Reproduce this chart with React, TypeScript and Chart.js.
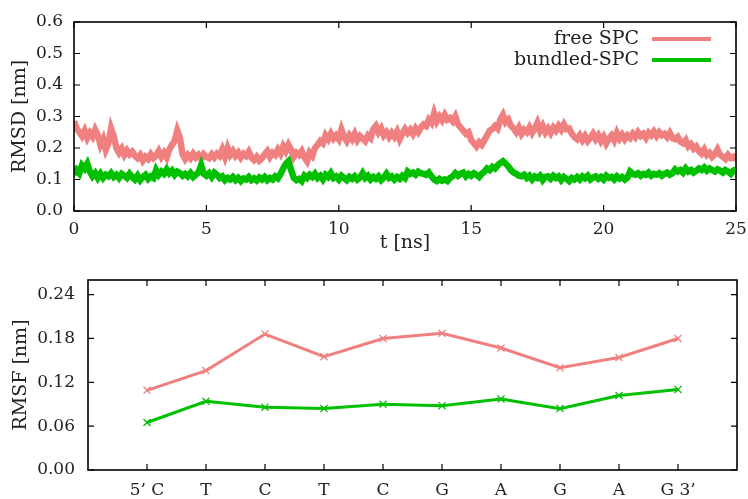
import React, { useEffect, useRef } from 'react';
import { Chart, registerables } from 'chart.js';
Chart.register(...registerables);

// ---------- data ----------
const timeStepNs = 0.1; // sampling interval of the RMSD traces (ns)

const freeSPC_RMSD = [
  0.285, 0.262, 0.25, 0.238, 0.255, 0.232, 0.248, 0.236, 0.258, 0.24,
  0.21, 0.228, 0.195, 0.215, 0.262, 0.238, 0.2, 0.185, 0.198, 0.178,
  0.192, 0.18, 0.188, 0.175, 0.168, 0.178, 0.16, 0.172, 0.165, 0.18,
  0.168, 0.175, 0.19, 0.172, 0.185, 0.17, 0.195, 0.21, 0.222, 0.255,
  0.232, 0.18, 0.165, 0.178, 0.168, 0.182, 0.17, 0.178, 0.165, 0.18,
  0.172, 0.168, 0.18, 0.17, 0.182, 0.175, 0.195, 0.172, 0.2, 0.178,
  0.19, 0.175, 0.185, 0.17, 0.182, 0.175, 0.188, 0.17, 0.162, 0.172,
  0.16, 0.168, 0.18, 0.19, 0.172, 0.185, 0.178, 0.195, 0.182, 0.205,
  0.19, 0.21, 0.195, 0.172, 0.185, 0.178, 0.19, 0.17, 0.158, 0.185,
  0.175, 0.2, 0.21, 0.222, 0.215, 0.24, 0.228, 0.245, 0.23, 0.24,
  0.228, 0.258, 0.235, 0.222, 0.24, 0.228, 0.245, 0.225, 0.238, 0.23,
  0.222, 0.24, 0.232, 0.26, 0.27, 0.25, 0.262, 0.24, 0.25, 0.235,
  0.248, 0.236, 0.252, 0.228, 0.245, 0.26, 0.248, 0.258, 0.245, 0.262,
  0.25, 0.265, 0.275, 0.27, 0.29, 0.28, 0.31, 0.285, 0.3, 0.288,
  0.305, 0.29, 0.295, 0.285, 0.3, 0.275, 0.265, 0.255, 0.245, 0.25,
  0.225, 0.215, 0.205, 0.218, 0.21, 0.225, 0.24, 0.255, 0.26, 0.27,
  0.262, 0.29, 0.305, 0.282, 0.29, 0.27, 0.262, 0.25, 0.265, 0.245,
  0.258, 0.25, 0.265, 0.248, 0.262, 0.28, 0.255, 0.27, 0.25, 0.262,
  0.248, 0.265, 0.255, 0.27, 0.258, 0.275, 0.26, 0.262, 0.245, 0.235,
  0.228, 0.24, 0.225, 0.238, 0.222, 0.232, 0.245, 0.228, 0.24, 0.222,
  0.235, 0.215, 0.23, 0.24, 0.225, 0.248, 0.23, 0.242, 0.228, 0.24,
  0.232, 0.245, 0.235, 0.25, 0.238, 0.245, 0.232, 0.248, 0.24, 0.252,
  0.238, 0.25, 0.24, 0.245, 0.235, 0.248, 0.232, 0.228, 0.235, 0.22,
  0.215, 0.225, 0.205, 0.212, 0.198, 0.205, 0.19, 0.182, 0.195, 0.178,
  0.185, 0.172, 0.18, 0.195, 0.178, 0.172, 0.165, 0.178, 0.168, 0.172,
  0.162,
];

const bundledSPC_RMSD = [
  0.115, 0.13, 0.12, 0.145, 0.135, 0.15, 0.125, 0.11, 0.12, 0.105,
  0.118, 0.105, 0.115, 0.11, 0.12, 0.108, 0.115, 0.105, 0.118, 0.112,
  0.105, 0.118, 0.108, 0.1, 0.112, 0.098, 0.108, 0.115, 0.102, 0.11,
  0.105, 0.13, 0.115, 0.125, 0.118, 0.132, 0.12, 0.128, 0.115, 0.125,
  0.12, 0.112, 0.118, 0.11, 0.12, 0.108, 0.115, 0.122, 0.145, 0.118,
  0.112, 0.12, 0.108, 0.122, 0.115, 0.105, 0.11, 0.098, 0.105, 0.1,
  0.108, 0.098, 0.105, 0.095, 0.103, 0.1, 0.108, 0.098, 0.104, 0.097,
  0.106, 0.1, 0.108, 0.098, 0.105, 0.1, 0.11, 0.104, 0.118, 0.135,
  0.15, 0.158, 0.13, 0.105, 0.098, 0.102, 0.095, 0.112, 0.105, 0.115,
  0.108, 0.118, 0.105, 0.112, 0.1, 0.115, 0.108, 0.12, 0.105, 0.11,
  0.1, 0.112, 0.105, 0.098, 0.108, 0.102, 0.11, 0.1, 0.106, 0.12,
  0.105, 0.112, 0.1, 0.108, 0.102, 0.11, 0.098, 0.106, 0.118, 0.105,
  0.11, 0.1, 0.108, 0.102, 0.112, 0.105, 0.125, 0.118, 0.122, 0.115,
  0.125, 0.12, 0.118, 0.115, 0.122, 0.11, 0.1, 0.095, 0.102, 0.096,
  0.1, 0.095, 0.105, 0.11, 0.12, 0.112, 0.118, 0.122, 0.11, 0.118,
  0.112, 0.12, 0.115, 0.108, 0.118, 0.125, 0.135, 0.13, 0.14, 0.135,
  0.145, 0.152, 0.158, 0.15, 0.142, 0.13, 0.122, 0.118, 0.112, 0.11,
  0.115, 0.105, 0.112, 0.1, 0.11, 0.105, 0.112, 0.098, 0.108, 0.11,
  0.102, 0.112, 0.105, 0.11, 0.098, 0.108, 0.102, 0.095, 0.105, 0.1,
  0.108, 0.1, 0.11, 0.104, 0.112, 0.1, 0.106, 0.11, 0.102, 0.108,
  0.1, 0.112, 0.105, 0.108, 0.1, 0.11, 0.103, 0.108, 0.1, 0.106,
  0.125, 0.118, 0.115, 0.12, 0.112, 0.118, 0.115, 0.122, 0.112, 0.118,
  0.115, 0.12, 0.112, 0.118, 0.122, 0.115, 0.12, 0.132, 0.125, 0.13,
  0.122, 0.135, 0.125, 0.13, 0.122, 0.128, 0.135, 0.13, 0.138, 0.128,
  0.135, 0.13, 0.125, 0.132, 0.128, 0.122, 0.13, 0.125, 0.118, 0.128,
  0.132,
];

const timeTicks = [0, 5, 10, 15, 20, 25];
const rmsdTicks = [0, 0.1, 0.2, 0.3, 0.4, 0.5, 0.6];

const residues = ['5’ C', 'T', 'C', 'T', 'C', 'G', 'A', 'G', 'A', 'G 3’'];
const freeSPC_RMSF = [0.109, 0.136, 0.186, 0.155, 0.180, 0.187, 0.167, 0.140, 0.154, 0.180];
const bundledSPC_RMSF = [0.065, 0.094, 0.086, 0.084, 0.090, 0.088, 0.097, 0.084, 0.102, 0.110];
const rmsfTicks = [0, 0.06, 0.12, 0.18, 0.24];

const seriesNames = ['free SPC', 'bundled-SPC'];
const seriesColors = ['#f08080', '#00c000'];

// ---------- helpers ----------
const FONT = 'DejaVu Serif';
const TEXT = '#222';

const framePlugin = {
  id: 'frame',
  afterDraw(chart: any) {
    const { ctx, chartArea } = chart;
    const { left, right, top, bottom } = chartArea;
    const len = 6;
    ctx.save();
    ctx.strokeStyle = '#000';
    ctx.lineWidth = 1.6;
    ctx.strokeRect(left, top, right - left, bottom - top);
    ctx.lineWidth = 1.2;
    ctx.beginPath();
    const xs = chart.scales.x;
    const ys = chart.scales.y;
    xs.ticks.forEach((t: any) => {
      const p = xs.getPixelForValue(t.value);
      ctx.moveTo(p, bottom); ctx.lineTo(p, bottom - len);
      ctx.moveTo(p, top); ctx.lineTo(p, top + len);
    });
    ys.ticks.forEach((t: any) => {
      const p = ys.getPixelForValue(t.value);
      ctx.moveTo(left, p); ctx.lineTo(left + len, p);
      ctx.moveTo(right, p); ctx.lineTo(right - len, p);
    });
    ctx.stroke();
    ctx.restore();
  },
};

const legendPlugin = {
  id: 'rightLegend',
  afterDraw(chart: any) {
    const { ctx } = chart;
    ctx.save();
    ctx.font = `19px "${FONT}"`;
    ctx.textAlign = 'right';
    ctx.textBaseline = 'middle';
    const ys = [39, 60];
    seriesNames.forEach((name, i) => {
      ctx.fillStyle = TEXT;
      ctx.fillText(name, 639, ys[i]);
      ctx.strokeStyle = seriesColors[i];
      ctx.lineWidth = 4;
      ctx.beginPath();
      ctx.moveTo(652, ys[i]);
      ctx.lineTo(711, ys[i]);
      ctx.stroke();
    });
    ctx.restore();
  },
};

function setTicks(values: number[]) {
  return (scale: any) => {
    scale.ticks = values.map((v) => ({ value: v }));
  };
}

export default function App() {
  const topRef = useRef<HTMLCanvasElement>(null);
  const botRef = useRef<HTMLCanvasElement>(null);

  useEffect(() => {
    const times = freeSPC_RMSD.map((_, i) => +(i * timeStepNs).toFixed(2));
    const top = new Chart(topRef.current as HTMLCanvasElement, {
      type: 'line',
      data: {
        datasets: [
          {
            label: seriesNames[0],
            data: freeSPC_RMSD.map((v, i) => ({ x: times[i], y: v })),
            borderColor: seriesColors[0],
            borderWidth: 6.5,
            borderJoinStyle: 'miter',
            pointRadius: 0,
            tension: 0,
            order: 1,
          },
          {
            label: seriesNames[1],
            data: bundledSPC_RMSD.map((v, i) => ({ x: times[i], y: v })),
            borderColor: seriesColors[1],
            borderWidth: 6.5,
            borderJoinStyle: 'miter',
            pointRadius: 0,
            tension: 0,
            order: 0,
          },
        ],
      },
      options: {
        animation: false,
        responsive: false,
        events: [],
        layout: { padding: { left: 0, right: 12, top: 22, bottom: 0 } },
        plugins: { legend: { display: false }, tooltip: { enabled: false } },
        scales: {
          x: {
            type: 'linear',
            min: 0,
            max: 25,
            afterBuildTicks: setTicks(timeTicks),
            afterFit: (s: any) => { s.height = 44; s.paddingRight = 0; s.paddingLeft = 0; },
            grid: { display: false, drawTicks: false },
            border: { display: false },
            ticks: {
              padding: 8,
              color: TEXT,
              font: { family: FONT, size: 17 },
              maxRotation: 0,
              callback: (v: any) => String(v),
            },
            title: {
              display: true,
              text: 't [ns]',
              color: TEXT,
              font: { family: FONT, size: 19 },
              padding: { top: 0, bottom: 1 },
            },
          },
          y: {
            type: 'linear',
            min: 0,
            max: 0.6,
            afterBuildTicks: setTicks(rmsdTicks),
            afterFit: (s: any) => { s.width = 74; },
            grid: { display: false, drawTicks: false },
            border: { display: false },
            ticks: {
              padding: 11,
              color: TEXT,
              font: { family: FONT, size: 17 },
              callback: (v: any) => Number(v).toFixed(1),
            },
            title: {
              display: true,
              text: 'RMSD [nm]',
              color: TEXT,
              font: { family: FONT, size: 19 },
              padding: { top: 9, bottom: 0 },
            },
          },
        },
      },
      plugins: [framePlugin, legendPlugin],
    } as any);

    const bot = new Chart(botRef.current as HTMLCanvasElement, {
      type: 'line',
      data: {
        datasets: [
          {
            label: seriesNames[0],
            data: freeSPC_RMSF.map((v, i) => ({ x: i + 1, y: v })),
            borderColor: seriesColors[0],
            backgroundColor: seriesColors[0],
            borderWidth: 3,
            pointStyle: 'crossRot',
            pointRadius: 5,
            pointBorderWidth: 1.3,
            tension: 0,
            order: 1,
          },
          {
            label: seriesNames[1],
            data: bundledSPC_RMSF.map((v, i) => ({ x: i + 1, y: v })),
            borderColor: seriesColors[1],
            backgroundColor: seriesColors[1],
            borderWidth: 3,
            pointStyle: 'crossRot',
            pointRadius: 5,
            pointBorderWidth: 1.3,
            tension: 0,
            order: 0,
          },
        ],
      },
      options: {
        animation: false,
        responsive: false,
        events: [],
        layout: { padding: { left: 0, right: 11, top: 25, bottom: 0 } },
        plugins: { legend: { display: false }, tooltip: { enabled: false } },
        scales: {
          x: {
            type: 'linear',
            min: 0,
            max: residues.length + 1,
            afterBuildTicks: setTicks(residues.map((_, i) => i + 1)),
            afterFit: (s: any) => { s.height = 29; s.paddingRight = 0; s.paddingLeft = 0; },
            grid: { display: false, drawTicks: false },
            border: { display: false },
            ticks: {
              padding: 10,
              color: TEXT,
              font: { family: FONT, size: 17 },
              maxRotation: 0,
              autoSkip: false,
              callback: (v: any) => residues[Math.round(v) - 1] ?? '',
            },
          },
          y: {
            type: 'linear',
            min: 0,
            max: 0.26,
            afterBuildTicks: setTicks(rmsfTicks),
            afterFit: (s: any) => { s.width = 88; },
            grid: { display: false, drawTicks: false },
            border: { display: false },
            ticks: {
              padding: 13,
              color: TEXT,
              font: { family: FONT, size: 17 },
              callback: (v: any) => Number(v).toFixed(2),
            },
            title: {
              display: true,
              text: 'RMSF [nm]',
              color: TEXT,
              font: { family: FONT, size: 19 },
              padding: { top: 10, bottom: 0 },
            },
          },
        },
      },
      plugins: [framePlugin],
    } as any);

    return () => {
      top.destroy();
      bot.destroy();
    };
  }, []);

  return (
    <div style={{ position: 'absolute', left: 0, top: 0, width: 748, height: 499, background: '#fff' }}>
      <canvas ref={topRef} width={748} height={255} style={{ position: 'absolute', left: 0, top: 0, display: 'block' }} />
      <canvas ref={botRef} width={748} height={244} style={{ position: 'absolute', left: 0, top: 255, display: 'block' }} />
    </div>
  );
}
